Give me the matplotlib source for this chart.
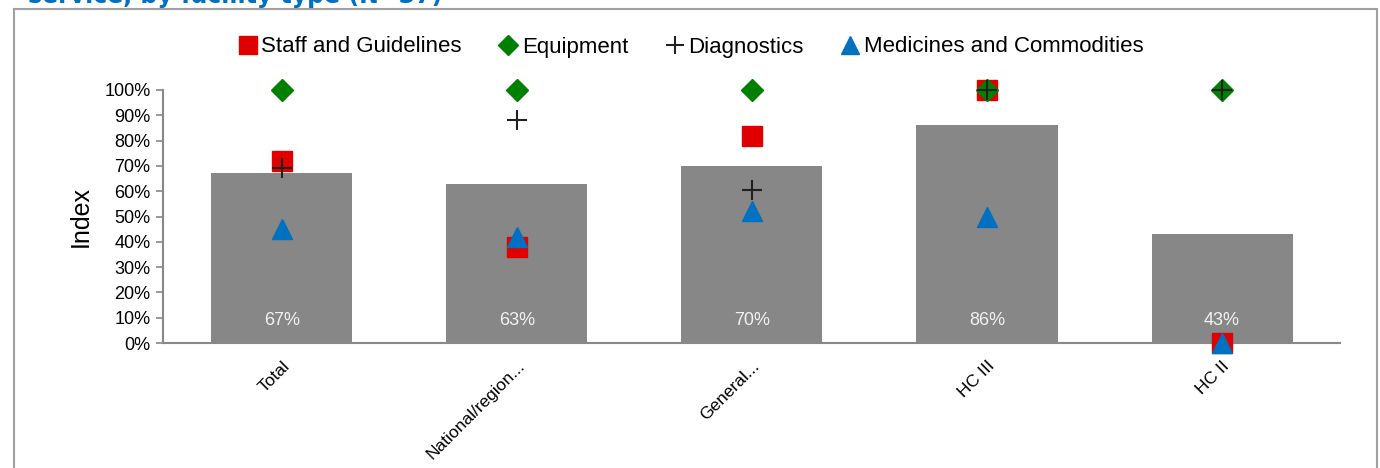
import matplotlib.pyplot as plt
import matplotlib.ticker as mtick
from matplotlib import font_manager

# pick a narrow font if there is one
names = set(f.name for f in font_manager.fontManager.ttflist)
narrow = "Liberation Sans Narrow" if "Liberation Sans Narrow" in names else "Liberation Sans"

categories = ["Total", "National/region...", "General...", "HC III", "HC II"]
overall = [67, 63, 70, 86, 43]
staff = [72, 38, 82, 100, 0]
equipment = [100, 100, 100, 100, 100]
diagnostics = [69, 88, 60.5, 100, 100]
medicines = [45, 42, 52, 50, 0]

fig = plt.figure(figsize=(13.8, 4.68), dpi=100)

# outer chart frame
frame = plt.Rectangle((14 / 1380, -0.05), (1377 - 14) / 1380, 1.05 - 9 / 468,
                      transform=fig.transFigure, fill=False, edgecolor="#a0a0a0", lw=1.5)
fig.patches.append(frame)

# title, mostly cut off at the top like the reference
fig.text(0.02, 1 - 3 / 468, "service, by facility type (N=37)", color="#0070C0",
         fontsize=17, fontweight="bold", family="DejaVu Sans", va="baseline", ha="left")

ax = fig.add_axes([163 / 1380, 1 - 343 / 468, (1340 - 163) / 1380, (343 - 90) / 468])
x = list(range(len(categories)))
ax.bar(x, overall, width=0.6, color="#878787", zorder=1)
for xi, v in zip(x, overall):
    ax.text(xi, 9, "%d%%" % v, ha="center", va="center", color="#f2f2f2",
            fontsize=13, family=narrow, zorder=2)

ax.plot(x, staff, "s", color="#E00000", markersize=14, label="Staff and Guidelines",
        clip_on=False, zorder=3)
ax.plot(x, equipment, "D", color="#008000", markersize=11, label="Equipment",
        clip_on=False, zorder=4)
ax.plot(x, diagnostics, "+", color="#202020", markersize=14, markeredgewidth=1.5,
        label="Diagnostics", clip_on=False, zorder=5)
ax.plot(x, medicines, "^", color="#0070C0", markersize=14, label="Medicines and Commodities",
        clip_on=False, zorder=6)

ax.set_xlim(-0.506, 4.502)
ax.set_ylim(0, 100)
ax.set_yticks(range(0, 101, 10))
ax.yaxis.set_major_formatter(mtick.FuncFormatter(lambda v, p: "%d%%" % v))
ax.set_xticks(x)
ax.set_xticklabels(categories, rotation=45, ha="right", rotation_mode="anchor",
                   fontsize=12.5, family="Liberation Sans")
for lab in ax.get_yticklabels():
    lab.set_family(narrow)
    lab.set_fontsize(13)
ax.tick_params(axis="x", length=0, pad=11)
ax.tick_params(axis="y", length=5, color="#888888", width=1.2, pad=4)
for s in ["top", "right"]:
    ax.spines[s].set_visible(False)
for s in ["left", "bottom"]:
    ax.spines[s].set_color("#888888")
    ax.spines[s].set_linewidth(1.5)
ax.set_ylabel("Index", fontsize=18, family="Liberation Sans", labelpad=8)

leg = fig.legend(loc="center", bbox_to_anchor=(0.5, 1 - 47 / 468), ncol=4, frameon=False,
                 handletextpad=0.1, columnspacing=1.6, handlelength=1.0,
                 prop={"family": narrow, "size": 16}, markerscale=0.9)

fig.savefig("out.png", dpi=100)
